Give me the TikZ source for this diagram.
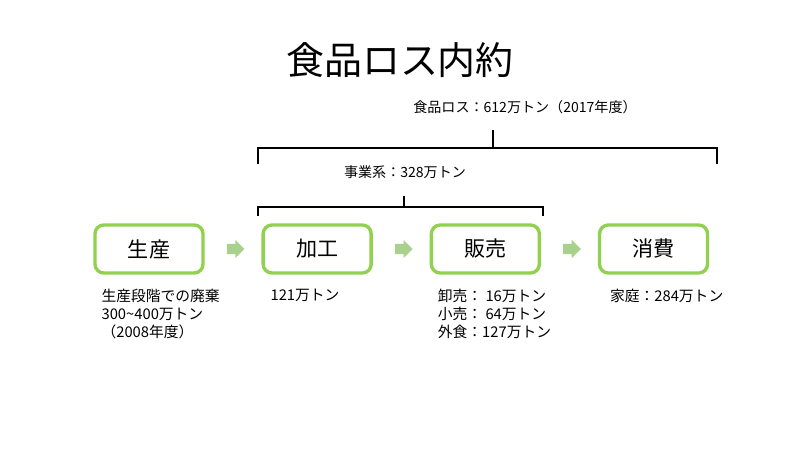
\documentclass[tikz,border=0pt]{standalone}
\usepackage{fontspec}
\setmainfont{Noto Sans CJK JP}
\usepackage{tikz}
\usetikzlibrary{arrows.meta,positioning,calc,shapes.arrows}
\definecolor{stagegreen}{RGB}{146, 208, 80}
\definecolor{flowgreen}{RGB}{169, 209, 142}
\tikzset{
  stage/.style={
    draw=stagegreen,
    line width=2.4pt,
    rounded corners=2.2mm,
    minimum width=2.7cm,
    minimum height=1.2cm,
    inner sep=0pt,
    font=\fontsize{15}{18}\selectfont
  },
  flow/.style={
    single arrow,
    fill=flowgreen,
    draw=none,
    inner sep=1.2mm,
    minimum height=4.4mm,
    single arrow head extend=1mm
  },
  note/.style={
    anchor=north west,
    align=left,
    inner sep=0pt,
    font=\fontsize{10.5}{12.8}\selectfont
  },
  sumlabel/.style={
    inner sep=0pt,
    font=\fontsize{10}{12}\selectfont
  },
  bracket/.style={
    line width=2.1pt,
    line cap=rect
  }
}
\begin{document}
\begin{tikzpicture}
\useasboundingbox (0,0) rectangle (20,11.25);
\node[font=\fontsize{27}{30}\selectfont] (title) at (10,9.75) {食品ロス内約};

\node[stage] (seisan) at (3.725,5.025) {生産};
\node[stage,right=1.42cm of seisan] (kako) {加工};
\node[stage,right=1.42cm of kako] (hanbai) {販売};
\node[stage,right=1.42cm of hanbai] (shohi) {消費};

\node[flow] (f1) at ($(seisan.east)!0.5!(kako.west)$) {};
\node[flow] (f2) at ($(kako.east)!0.5!(hanbai.west)$) {};
\node[flow] (f3) at ($(hanbai.east)!0.5!(shohi.west)$) {};

\node[note,below right=0.36cm and 0.2cm of seisan.south west] (nseisan) {生産段階での廃棄\\300\textasciitilde400万トン\\（2008年度）};
\node[note,below right=0.36cm and 0.22cm of kako.south west] (nkako) {121万トン};
\node[note,below right=0.36cm and 0.2cm of hanbai.south west] (nhanbai) {卸売：\ 16万トン\\小売：\ 64万トン\\外食：127万トン};
\node[note,below right=0.36cm and 0.3cm of shohi.south west] (nshohi) {家庭：284万トン};

\coordinate (bigL) at (6.45,7.175);
\coordinate (bigLt) at (6.45,7.55);
\coordinate (bigRt) at (17.925,7.55);
\coordinate (bigR) at (17.925,7.175);
\coordinate (bigM) at (12.325,7.55);
\coordinate (bigTop) at (12.325,7.975);
\node[sumlabel] (total) at (13.125,8.575) {食品ロス：612万トン（2017年度）};

\coordinate (bizL) at (6.45,5.875);
\coordinate (bizLt) at (6.45,6.075);
\coordinate (bizRt) at (13.575,6.075);
\coordinate (bizR) at (13.575,5.875);
\coordinate (bizM) at (10.1,6.075);
\coordinate (bizTop) at (10.1,6.325);
\node[sumlabel] (business) at (10.125,6.95) {事業系：328万トン};

\draw[bracket] (bigL) -- (bigLt) -- (bigRt) -- (bigR);
\draw[bracket] (bigM) -- (bigTop);
\draw[bracket] (bizL) -- (bizLt) -- (bizRt) -- (bizR);
\draw[bracket] (bizM) -- (bizTop);
\end{tikzpicture}
\end{document}
